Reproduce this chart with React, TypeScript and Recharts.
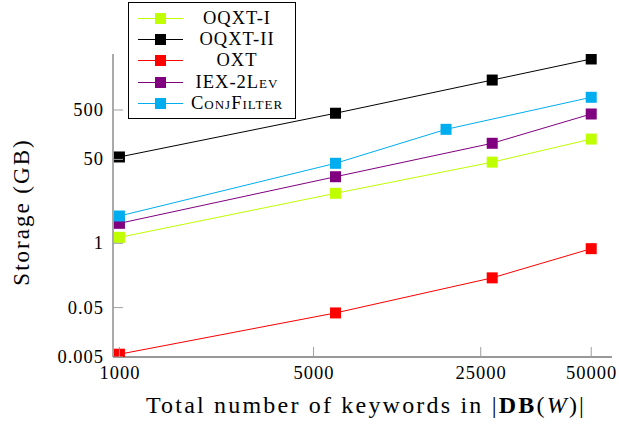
import { Line, LineChart, XAxis, YAxis } from "recharts";

const xTicks = [1000, 5000, 20000, 50000];
const xTickLabels = ["1000", "5000", "25000", "50000"];
const yTicks = [0.005, 0.05, 1, 50, 500];
const yTickLabels = ["0.005", "0.05", "1", "50", "500"];

const seriesNames = ["OQXT-I", "OQXT-II", "OXT", "IEX-2Lev", "ConjFilter"];
const seriesColors = ["#bfff00", "#000000", "#ff0000", "#800080", "#00adef"];

const oqxt1X = [1000, 6000, 22000, 50000];
const oqxt1Y = [1.32, 10.3, 44, 129];
const oqxt2X = [1000, 6000, 22000, 50000];
const oqxt2Y = [56, 430, 2020, 5390];
const oxtX = [1000, 6000, 22000, 50000];
const oxtY = [0.0057, 0.039, 0.2, 0.78];
const iexX = [1000, 6000, 22000, 50000];
const iexY = [2.54, 22.3, 106, 415];
const conjX = [1000, 6000, 15000, 50000];
const conjY = [3.57, 41.7, 203, 904];

const seriesX = [oqxt1X, oqxt2X, oxtX, iexX, conjX];
const seriesY = [oqxt1Y, oqxt2Y, oxtY, iexY, conjY];

const W = 619;
const H = 426;
const LEFT = 113;
const RIGHT = 612;
const TOP = 54;
const BOTTOM = 357;
const TICK_LEN = 10;
const TICK_COLOR = "#a0a0a0";
const FONT = "'Liberation Serif', 'DejaVu Serif', serif";

const series = seriesNames.map((name, i) => ({
  name,
  color: seriesColors[i],
  data: seriesX[i].map((x, j) => ({ x, y: seriesY[i][j] })),
}));

function BottomTick(props: any) {
  const { x, payload, index } = props;
  return (
    <g>
      <line x1={x} x2={x} y1={BOTTOM} y2={BOTTOM - TICK_LEN} stroke={TICK_COLOR} />
      <text
        x={x + 0.5}
        y={379}
        textAnchor="middle"
        fontFamily={FONT}
        fontSize={18.5}
        letterSpacing={1}
        fill="#000"
      >
        {xTickLabels[index] ?? String(payload.value)}
      </text>
    </g>
  );
}

function TopTick(props: any) {
  const { x } = props;
  return <line x1={x} x2={x} y1={TOP} y2={TOP + TICK_LEN} stroke={TICK_COLOR} />;
}

function LeftTick(props: any) {
  const { y, index, payload } = props;
  return (
    <g>
      <line x1={LEFT} x2={LEFT + TICK_LEN} y1={y} y2={y} stroke={TICK_COLOR} />
      <text
        x={104}
        y={y + 6}
        textAnchor="end"
        fontFamily={FONT}
        fontSize={18.5}
        letterSpacing={1}
        fill="#000"
      >
        {yTickLabels[index] ?? String(payload.value)}
      </text>
    </g>
  );
}

function RightTick(props: any) {
  const { y } = props;
  return <line x1={RIGHT} x2={RIGHT - TICK_LEN} y1={y} y2={y} stroke={TICK_COLOR} />;
}

function square(color: string, name: string) {
  return (p: any) => (
    <rect
      key={`${name}-${p.index}`}
      x={p.cx - 5.5}
      y={p.cy - 5.5}
      width={11}
      height={11}
      fill={color}
    />
  );
}

function LegendBox() {
  return (
    <div
      style={{
        position: "absolute",
        left: 128,
        top: 2,
        width: 166,
        height: 115,
        border: "1px solid #000",
        background: "#fff",
        fontFamily: FONT,
      }}
    >
      {series.map((s, i) => (
        <div
          key={s.name}
          style={{
            position: "absolute",
            left: 0,
            top: 5 + i * 21.2,
            height: 21,
            width: 166,
            display: "flex",
            alignItems: "center",
          }}
        >
          <svg width={56} height={21} style={{ flexShrink: 0 }}>
            <line x1={9} x2={54} y1={10.5} y2={10.5} stroke={s.color} strokeWidth={1} />
            <rect x={26} y={5} width={11} height={11} fill={s.color} />
          </svg>
          <div
            style={{
              width: 104,
              textAlign: "center",
              fontSize: 18.5,
              letterSpacing: 1,
              fontVariant: "small-caps",
              lineHeight: "21px",
            }}
          >
            {s.name}
          </div>
        </div>
      ))}
    </div>
  );
}

export default function App() {
  return (
    <div style={{ position: "relative", width: W, height: H, background: "#fff" }}>
      <style>{"body{margin:0}"}</style>
      <LineChart
        width={W}
        height={H}
        margin={{ top: TOP, right: W - RIGHT, bottom: H - BOTTOM - 30, left: 13 }}
      >
        <XAxis
          xAxisId="bottom"
          dataKey="x"
          type="number"
          scale="log"
          domain={[948, 59400]}
          allowDataOverflow
          ticks={xTicks}
          interval={0}
          tick={BottomTick}
          tickLine={false}
          axisLine={{ stroke: "#333" }}
          height={30}
        />
        <XAxis
          xAxisId="top"
          orientation="top"
          dataKey="x"
          type="number"
          scale="log"
          domain={[948, 59400]}
          allowDataOverflow
          ticks={xTicks}
          interval={0}
          tick={TopTick}
          tickLine={false}
          axisLine={{ stroke: "#555" }}
          height={0}
        />
        <YAxis
          yAxisId="left"
          dataKey="y"
          type="number"
          scale="log"
          domain={[0.005, 6800]}
          allowDataOverflow
          ticks={yTicks}
          interval={0}
          tick={LeftTick}
          tickLine={false}
          axisLine={{ stroke: "#555" }}
          width={100}
        />
        <YAxis
          yAxisId="right"
          orientation="right"
          dataKey="y"
          type="number"
          scale="log"
          domain={[0.005, 6800]}
          allowDataOverflow
          ticks={yTicks}
          interval={0}
          tick={RightTick}
          tickLine={false}
          axisLine={{ stroke: "#555" }}
          width={0}
        />
        {series.map((s) => (
          <Line
            key={s.name}
            data={s.data}
            dataKey="y"
            xAxisId="bottom"
            yAxisId="left"
            stroke={s.color}
            strokeWidth={1}
            dot={square(s.color, s.name)}
            activeDot={false}
            isAnimationActive={false}
          />
        ))}
      </LineChart>
      <LegendBox />
      <div
        style={{
          position: "absolute",
          left: 22,
          top: 212,
          transform: "translate(-50%, -50%) rotate(-90deg)",
          whiteSpace: "nowrap",
          fontFamily: FONT,
          fontSize: 23,
          letterSpacing: 2,
        }}
      >
        Storage (GB)
      </div>
      <div
        style={{
          position: "absolute",
          left: 366,
          top: 405,
          transform: "translate(-50%, -50%)",
          whiteSpace: "nowrap",
          fontFamily: FONT,
          fontSize: 24,
          letterSpacing: 2.2,
        }}
      >
        Total number of keywords in |<b>DB</b>(<i>W</i>)|
      </div>
    </div>
  );
}
